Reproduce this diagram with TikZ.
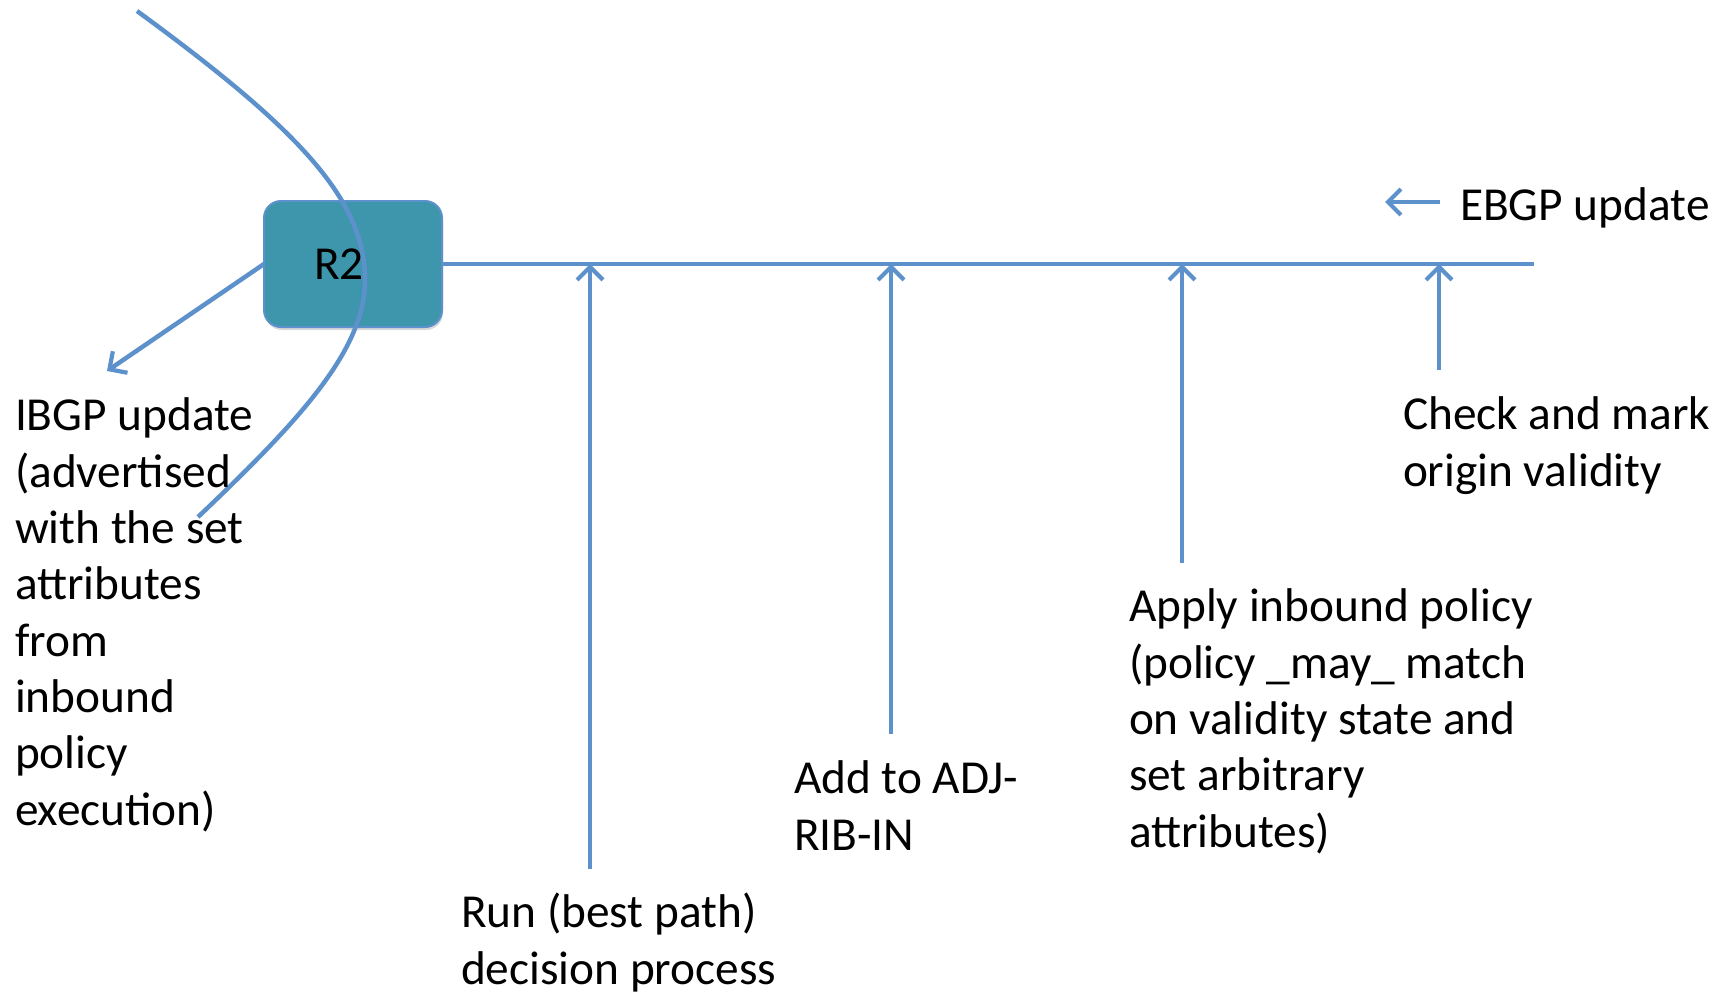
\documentclass[tikz,border=0pt]{standalone}
\usepackage{fontspec}
\setmainfont{Carlito}
\usetikzlibrary{arrows.meta,shadows}
\definecolor{lineblue}{RGB}{93,145,203}
\definecolor{boxteal}{RGB}{62,150,173}
\begin{document}
\begin{tikzpicture}[x=1bp,y=-1bp,
  every node/.style={font=\fontsize{47.5}{56.5}\selectfont, inner sep=0pt, outer sep=0pt},
  conn/.style={draw=lineblue, line width=4.5pt},
  arr/.style={conn, -{Straight Barb[length=13bp,width=26bp,line width=4.2pt]}},
  lbl/.style={anchor=base west, align=left}]
\useasboundingbox (0,0) rectangle (1724,993);
% router box
\node[draw=lineblue, line width=2pt, fill=boxteal, rounded corners=17bp,
      minimum width=178bp, minimum height=126bp,
      drop shadow={shadow xshift=1bp, shadow yshift=-3bp, opacity=0.3}]
      (r2) at (353,264) {\hspace*{-28bp}R2};
% decorative curve over the box
\draw[conn] (137,11) .. controls (300,130) and (365,200) .. (365,280)
            .. controls (365,350) and (300,420) .. (198,517);
% coordinates
\coordinate (lineend) at (1534,264);
\coordinate (t1) at (590,264);  \coordinate (b1) at (590,869);
\coordinate (t2) at (891,264);  \coordinate (b2) at (891,734);
\coordinate (t3) at (1182,264); \coordinate (b3) at (1182,563);
\coordinate (t4) at (1439,264); \coordinate (b4) at (1439,370);
\coordinate (ibgp) at (107,371);
\coordinate (e1) at (1440,202); \coordinate (e2) at (1385,202);
% connectors
\draw[conn] (r2.east) -- (lineend);
\draw[arr] (b1) -- (t1);
\draw[arr] (b2) -- (t2);
\draw[arr] (b3) -- (t3);
\draw[arr] (b4) -- (t4);
\draw[arr] (r2.west) -- (ibgp);
\draw[arr] (e1) -- (e2);
% labels (anchored at the baseline of their last line)
\node[lbl] (ebgplbl) at (1460,220) {EBGP update};
\node[lbl] (ibgplbl) at (15,825) {IBGP update\\(advertised\\with the set\\attributes\\from\\inbound\\policy\\execution)};
\node[lbl] (checklbl) at (1403,486) {Check and mark\\origin validity};
\node[lbl] (applylbl) at (1129,847) {Apply inbound policy\\(policy \_may\_ match\\on validity state and\\set arbitrary\\attributes)};
\node[lbl] (addlbl) at (794,850) {Add to ADJ-\\RIB-IN};
\node[lbl] (runlbl) at (461,984) {Run (best path)\\decision process};
\end{tikzpicture}
\end{document}
